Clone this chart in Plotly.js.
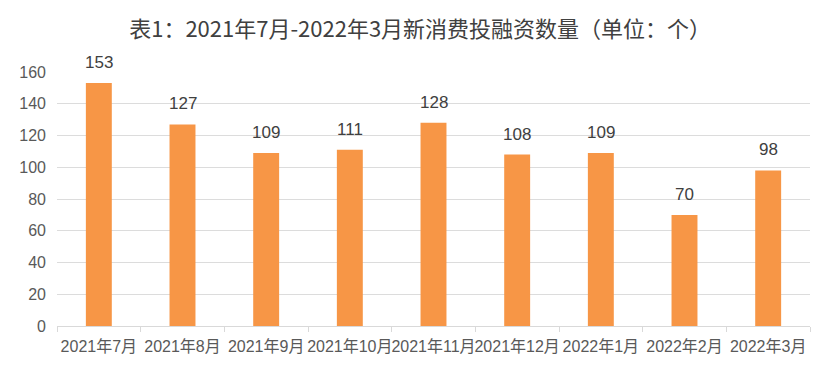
<!DOCTYPE html>
<html><head><meta charset="utf-8">
<script src="https://cdn.plot.ly/plotly-3.0.1.min.js"></script>
<style>html,body{margin:0;padding:0;background:#fff}#chart{width:832px;height:372px}</style>
</head><body><div id="chart"></div>
<script>
const categories = ["2021年7月","2021年8月","2021年9月","2021年10月","2021年11月","2021年12月","2022年1月","2022年2月","2022年3月"];
const values = [153,127,109,111,128,108,109,70,98];
const yTicks = [0,20,40,60,80,100,120,140,160];

const font = '"Liberation Sans", Arial, "Noto Sans CJK SC", sans-serif';
const trace = {
  type: 'bar', x: categories, y: values,
  marker: {color: '#F79646'},
  hoverinfo: 'none'
};
const annotations = categories.map((c, i) => ({
  x: c, y: values[i], xref: 'x', yref: 'y', text: String(values[i]),
  showarrow: false, yanchor: 'bottom', yshift: 9,
  font: {family: font, size: 17, color: '#404040'}
}));
const layout = {
  width: 832, height: 372,
  margin: {l: 57, r: 22, t: 72, b: 46},
  paper_bgcolor: '#fff', plot_bgcolor: '#fff',
  bargap: 0.69,
  title: {text: '表1：2021年7月-2022年3月新消费投融资数量（单位：个）', x: 0.505, xanchor: 'center', y: 0.92, yanchor: 'middle',
    font: {family: '"Noto Sans CJK SC", sans-serif', size: 22, color: '#404040'}},
  xaxis: {type: 'category', showline: true, linecolor: '#d9d9d9', linewidth: 1,
    ticks: 'outside', tickson: 'boundaries', ticklen: 5, tickcolor: '#d9d9d9', tickangle: 0, ticklabelstandoff: 6,
    tickfont: {family: font, size: 16, color: '#595959'}, showgrid: false, zeroline: false},
  yaxis: {range: [0,160], tickvals: yTicks, ticktext: yTicks.map(String), showgrid: true, gridcolor: '#dcdcdc', gridwidth: 1,
    zeroline: false, showline: false, ticks: '', ticklabelstandoff: 10,
    tickfont: {family: font, size: 16, color: '#595959'}},
  annotations: annotations,
  showlegend: false
};
Plotly.newPlot('chart', [trace], layout, {staticPlot: true});
</script></body></html>
